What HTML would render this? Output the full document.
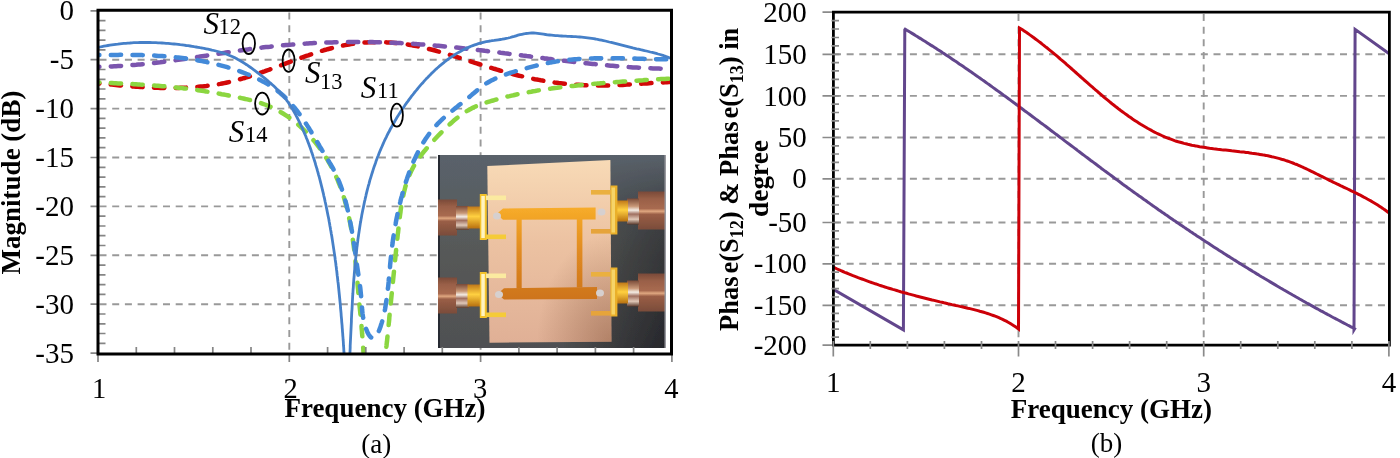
<!DOCTYPE html>
<html><head><meta charset="utf-8"><title>S-parameters</title>
<style>
html,body{margin:0;padding:0;background:#fff;}
body{width:1400px;height:458px;overflow:hidden;}
svg{display:block;filter:blur(0.5px);}
text{font-family:"Liberation Serif",serif;fill:#000;}
.b{font-weight:bold;}
</style></head><body>
<svg width="1400" height="458" viewBox="0 0 1400 458">
<defs>
<clipPath id="clipL"><rect x="99" y="11" width="571" height="342"/></clipPath>
<clipPath id="clipR"><rect x="834" y="13" width="554" height="331"/></clipPath>
<filter id="soft" x="0" y="0" width="1" height="1"><feGaussianBlur stdDeviation="0.7"/></filter>
<linearGradient id="bgph" x1="0" y1="0" x2="0" y2="1">
<stop offset="0" stop-color="#5a626b"/><stop offset="0.5" stop-color="#575958"/><stop offset="1" stop-color="#4f5052"/></linearGradient>
<linearGradient id="bgph2" x1="0" y1="0" x2="1" y2="0">
<stop offset="0" stop-color="#000" stop-opacity="0"/><stop offset="0.55" stop-color="#000" stop-opacity="0"/><stop offset="1" stop-color="#05050c" stop-opacity="0.55"/></linearGradient>
<linearGradient id="bgmaskg" x1="0" y1="0" x2="0" y2="1">
<stop offset="0" stop-color="#000"/><stop offset="0.3" stop-color="#999"/><stop offset="1" stop-color="#fff"/></linearGradient>
<mask id="bgmask" maskUnits="userSpaceOnUse" x="438" y="155" width="228" height="193"><rect x="438" y="155" width="228" height="193" fill="url(#bgmaskg)"/></mask>
<linearGradient id="board" x1="0" y1="0" x2="0" y2="1">
<stop offset="0" stop-color="#f8dab6"/><stop offset="0.45" stop-color="#ecc2a2"/><stop offset="1" stop-color="#e0b096"/></linearGradient>
<linearGradient id="trg" gradientUnits="userSpaceOnUse" x1="0" y1="205" x2="0" y2="300">
<stop offset="0" stop-color="#f8ae2a"/><stop offset="0.5" stop-color="#e08a20"/><stop offset="1" stop-color="#cd741e"/></linearGradient>
<radialGradient id="boardsh" cx="1" cy="1" r="0.6">
<stop offset="0" stop-color="#5a2a10" stop-opacity="0.35"/><stop offset="1" stop-color="#5a2a10" stop-opacity="0"/></radialGradient>
<linearGradient id="metal" x1="0" y1="0" x2="0" y2="1">
<stop offset="0" stop-color="#7a4a38"/><stop offset="0.2" stop-color="#9a6048"/><stop offset="0.45" stop-color="#a86a50"/><stop offset="0.52" stop-color="#e0a880"/><stop offset="0.6" stop-color="#9a5e46"/><stop offset="1" stop-color="#7a4c3a"/></linearGradient>
<linearGradient id="metal2" x1="0" y1="0" x2="0" y2="1">
<stop offset="0" stop-color="#7a4a38"/><stop offset="0.3" stop-color="#c89878"/><stop offset="0.45" stop-color="#f4ece4"/><stop offset="0.6" stop-color="#a07060"/><stop offset="0.8" stop-color="#e0c8b8"/><stop offset="1" stop-color="#5a3a2c"/></linearGradient>
<linearGradient id="gold" x1="0" y1="0" x2="0" y2="1">
<stop offset="0" stop-color="#c07818"/><stop offset="0.45" stop-color="#ffd040"/><stop offset="1" stop-color="#b87010"/></linearGradient>
</defs>
<rect width="1400" height="458" fill="#fff"/>

<path d="M99.5,59.7H670.0 M99.5,108.6H670.0 M99.5,157.5H670.0 M99.5,206.4H670.0 M99.5,255.3H670.0 M99.5,304.2H670.0 M289.3,12.5V352.5 M480.6,12.5V352.5" stroke="#999999" stroke-width="1.9" stroke-dasharray="7 5.7" fill="none"/>
<path d="M834.0,54.3H1387.9 M834.0,95.9H1387.9 M834.0,137.5H1387.9 M834.0,178.8H1387.9 M834.0,222.5H1387.9 M834.0,263.8H1387.9 M834.0,305.3H1387.9 M1018.5,14.0V343.7 M1203.7,14.0V343.7" stroke="#999999" stroke-width="1.9" stroke-dasharray="7 5.65" fill="none"/>
<g filter="url(#soft)">
<rect x="438" y="155" width="228" height="193" fill="url(#bgph)"/>
<rect x="438" y="155" width="228" height="193" fill="url(#bgph2)" mask="url(#bgmask)"/>
<rect x="438" y="155" width="2" height="193" fill="#262b30"/>
<path d="M487.3,166 L610.4,160 L611.5,341.7 L489.5,342.7 Z" fill="url(#board)"/>
<path d="M487.3,166 L610.4,160 L611.5,341.7 L489.5,342.7 Z" fill="url(#boardsh)"/>
<path d="M496.5,214 L503,208.6 L595.6,207.6 L595.6,219.6 L503,219.8 Z" fill="url(#trg)"/>
<path d="M497.5,294 L504,288.2 L597,287.1 L597,299.1 L504,299.6 Z" fill="url(#trg)"/>
<rect x="516.5" y="219" width="5.2" height="69.5" fill="url(#trg)"/>
<rect x="576.8" y="219" width="5.6" height="68.5" fill="url(#trg)"/>
<rect x="438" y="199.5" width="19" height="36" fill="url(#metal)"/><rect x="456" y="206.0" width="13" height="24" fill="url(#metal2)"/><rect x="467.5" y="206.5" width="13" height="22" fill="url(#gold)"/><rect x="479.8" y="194.0" width="7" height="46" fill="#f3c22a"/><rect x="481.3" y="196.0" width="3.5" height="42" fill="#fff4c0"/><rect x="486" y="195.5" width="20" height="4.6" fill="#fbeaa0"/><rect x="486" y="234.5" width="20" height="4.6" fill="#f5cb38"/>
<rect x="438" y="277.5" width="19" height="36" fill="url(#metal)"/><rect x="456" y="284.0" width="13" height="24" fill="url(#metal2)"/><rect x="467.5" y="284.5" width="13" height="22" fill="url(#gold)"/><rect x="479.8" y="272.0" width="7" height="46" fill="#f3c22a"/><rect x="481.3" y="274.0" width="3.5" height="42" fill="#fff4c0"/><rect x="486" y="273.5" width="20" height="4.6" fill="#fbeaa0"/><rect x="486" y="312.5" width="20" height="4.6" fill="#f5cb38"/>
<rect x="638" y="191.5" width="28" height="38" fill="url(#metal)"/><rect x="627" y="198.5" width="12" height="26" fill="url(#metal2)"/><rect x="616.5" y="200.5" width="11.5" height="21" fill="url(#gold)"/><rect x="610.4" y="185.5" width="7" height="49" fill="#eab02a"/><rect x="611.5" y="187.5" width="3.5" height="45" fill="#f6d468"/><rect x="591" y="190.0" width="20" height="4.6" fill="#eab040"/><rect x="591" y="229.0" width="20" height="4.6" fill="#e6a43a"/>
<rect x="638" y="273.5" width="28" height="38" fill="url(#metal)"/><rect x="627" y="280.5" width="12" height="26" fill="url(#metal2)"/><rect x="616.5" y="282.5" width="11.5" height="21" fill="url(#gold)"/><rect x="610.4" y="267.5" width="7" height="49" fill="#eab02a"/><rect x="611.5" y="269.5" width="3.5" height="45" fill="#f6d468"/><rect x="591" y="272.0" width="20" height="4.6" fill="#eab040"/><rect x="591" y="311.0" width="20" height="4.6" fill="#e6a43a"/>
<ellipse cx="497.0" cy="216.0" rx="4" ry="3.5" fill="#d6d0cf"/>
<ellipse cx="601.5" cy="212.0" rx="4" ry="3.5" fill="#d6d0cf"/>
<ellipse cx="499.0" cy="294.5" rx="4" ry="3.5" fill="#d6d0cf"/>
<ellipse cx="600.0" cy="293.0" rx="4" ry="3.5" fill="#d6d0cf"/>
<rect x="664.5" y="155" width="1.5" height="193" fill="#9a9aa0"/>
</g>
<g clip-path="url(#clipL)" fill="none" stroke-linejoin="round">
<path d="M98.0,83.3 L100.0,83.5 L102.0,83.7 L104.0,83.9 L105.9,84.1 L107.9,84.3 L109.9,84.5 L111.9,84.6 L113.9,84.8 L115.9,85.0 L117.9,85.2 L119.9,85.4 L122.0,85.5 L124.0,85.7 L126.0,85.9 L128.0,86.1 L130.0,86.2 L132.0,86.4 L134.0,86.5 L136.1,86.7 L138.1,86.8 L140.1,86.9 L142.1,87.1 L144.1,87.2 L146.2,87.3 L148.2,87.4 L150.2,87.5 L152.2,87.6 L154.2,87.7 L156.3,87.7 L158.3,87.8 L160.3,87.9 L162.3,87.9 L164.3,87.9 L166.4,88.0 L168.4,88.0 L170.4,88.0 L172.4,88.0 L174.4,88.0 L176.4,87.9 L178.5,87.9 L180.5,87.8 L182.5,87.8 L184.5,87.7 L186.5,87.6 L188.5,87.5 L190.5,87.4 L192.5,87.3 L194.5,87.1 L196.5,87.0 L198.5,86.8 L200.5,86.6 L202.5,86.4 L204.5,86.2 L206.4,86.0 L208.4,85.7 L210.4,85.4 L212.4,85.2 L214.3,84.9 L216.3,84.5 L218.3,84.2 L220.2,83.9 L222.2,83.5 L224.2,83.1 L226.1,82.7 L228.0,82.3 L230.0,81.8 L231.9,81.4 L233.9,80.9 L235.8,80.4 L237.7,79.9 L239.7,79.3 L241.6,78.8 L243.5,78.2 L245.4,77.7 L247.3,77.1 L249.2,76.5 L251.2,75.9 L253.1,75.3 L255.0,74.6 L256.9,74.0 L258.8,73.4 L260.7,72.7 L262.6,72.0 L264.5,71.4 L266.4,70.7 L268.3,70.0 L270.2,69.3 L272.1,68.6 L274.0,67.9 L275.9,67.2 L277.8,66.5 L279.7,65.8 L281.6,65.1 L283.5,64.4 L285.4,63.6 L287.3,62.9 L289.2,62.2 L291.1,61.5 L293.0,60.8 L294.9,60.1 L296.8,59.4 L298.7,58.7 L300.6,58.0 L302.5,57.3 L304.4,56.6 L306.3,55.9 L308.3,55.3 L310.2,54.6 L312.1,54.0 L314.0,53.3 L315.9,52.7 L317.9,52.1 L319.8,51.5 L321.7,50.9 L323.6,50.3 L325.6,49.8 L327.5,49.2 L329.4,48.7 L331.4,48.2 L333.3,47.7 L335.3,47.2 L337.2,46.7 L339.2,46.3 L341.1,45.9 L343.1,45.5 L345.1,45.1 L347.0,44.7 L349.0,44.4 L351.0,44.1 L352.9,43.8 L354.9,43.6 L356.9,43.3 L358.9,43.1 L360.9,42.9 L362.9,42.7 L364.9,42.6 L366.8,42.5 L368.8,42.3 L370.8,42.3 L372.8,42.2 L374.8,42.2 L376.8,42.1 L378.8,42.1 L380.8,42.2 L382.8,42.2 L384.8,42.3 L386.8,42.4 L388.8,42.5 L390.8,42.6 L392.8,42.7 L394.8,42.9 L396.8,43.1 L398.7,43.3 L400.7,43.5 L402.7,43.8 L404.7,44.1 L406.7,44.4 L408.7,44.7 L410.6,45.0 L412.6,45.4 L414.6,45.7 L416.5,46.1 L418.5,46.5 L420.5,47.0 L422.4,47.4 L424.4,47.8 L426.3,48.3 L428.3,48.8 L430.2,49.3 L432.2,49.8 L434.1,50.3 L436.1,50.8 L438.0,51.4 L440.0,51.9 L441.9,52.5 L443.9,53.1 L445.8,53.6 L447.7,54.2 L449.7,54.8 L451.6,55.4 L453.5,56.0 L455.5,56.6 L457.4,57.2 L459.3,57.8 L461.3,58.4 L463.2,59.1 L465.1,59.7 L467.1,60.3 L469.0,60.9 L470.9,61.5 L472.8,62.2 L474.8,62.8 L476.7,63.4 L478.6,64.0 L480.6,64.6 L482.5,65.2 L484.4,65.8 L486.4,66.4 L488.3,67.0 L490.2,67.6 L492.1,68.2 L494.1,68.8 L496.0,69.3 L497.9,69.9 L499.9,70.5 L501.8,71.0 L503.7,71.6 L505.7,72.1 L507.6,72.6 L509.6,73.2 L511.5,73.7 L513.4,74.2 L515.4,74.7 L517.3,75.2 L519.3,75.7 L521.2,76.1 L523.2,76.6 L525.1,77.1 L527.1,77.5 L529.0,77.9 L531.0,78.3 L532.9,78.8 L534.9,79.2 L536.9,79.5 L538.8,79.9 L540.8,80.3 L542.8,80.6 L544.8,81.0 L546.7,81.3 L548.7,81.6 L550.7,81.9 L552.7,82.2 L554.6,82.5 L556.6,82.7 L558.6,83.0 L560.6,83.2 L562.6,83.4 L564.6,83.7 L566.6,83.9 L568.6,84.1 L570.6,84.2 L572.6,84.4 L574.6,84.6 L576.6,84.7 L578.6,84.8 L580.6,85.0 L582.6,85.1 L584.6,85.2 L586.6,85.2 L588.6,85.3 L590.6,85.4 L592.6,85.4 L594.6,85.5 L596.6,85.5 L598.6,85.5 L600.6,85.5 L602.7,85.5 L604.7,85.5 L606.7,85.4 L608.7,85.4 L610.7,85.3 L612.7,85.3 L614.7,85.2 L616.8,85.1 L618.8,85.1 L620.8,85.0 L622.8,84.9 L624.8,84.8 L626.8,84.6 L628.8,84.5 L630.9,84.4 L632.9,84.3 L634.9,84.2 L636.9,84.0 L638.9,83.9 L640.9,83.8 L642.9,83.6 L644.9,83.5 L646.9,83.4 L649.0,83.2 L651.0,83.1 L653.0,83.0 L655.0,82.8 L657.0,82.7 L659.0,82.6 L661.0,82.5 L663.0,82.4 L665.0,82.3 L667.0,82.2 L669.0,82.1 L671.0,82.0" stroke="#d20808" stroke-width="4.5" stroke-dasharray="10.3 11.4" stroke-dashoffset="8.9" stroke-linecap="round"/>
<path d="M98.0,82.4 L100.0,82.5 L102.0,82.6 L104.0,82.7 L106.0,82.8 L108.0,82.9 L110.0,83.0 L112.0,83.1 L114.0,83.2 L116.0,83.3 L118.0,83.4 L120.0,83.5 L122.0,83.6 L124.0,83.7 L126.0,83.8 L128.0,83.9 L130.1,84.0 L132.1,84.1 L134.1,84.2 L136.1,84.3 L138.1,84.4 L140.1,84.6 L142.1,84.7 L144.1,84.8 L146.1,85.0 L148.1,85.1 L150.1,85.2 L152.1,85.4 L154.1,85.5 L156.1,85.7 L158.1,85.8 L160.1,86.0 L162.1,86.2 L164.1,86.3 L166.1,86.5 L168.1,86.7 L170.1,86.9 L172.1,87.1 L174.1,87.3 L176.1,87.5 L178.1,87.7 L180.1,87.9 L182.1,88.1 L184.1,88.4 L186.1,88.6 L188.1,88.8 L190.1,89.1 L192.0,89.3 L194.0,89.6 L196.0,89.9 L198.0,90.2 L200.0,90.5 L201.9,90.8 L203.9,91.1 L205.9,91.4 L207.9,91.7 L209.8,92.0 L211.8,92.4 L213.8,92.7 L215.7,93.1 L217.7,93.4 L219.7,93.8 L221.6,94.2 L223.6,94.5 L225.6,94.9 L227.5,95.3 L229.5,95.7 L231.5,96.1 L233.5,96.5 L235.4,96.9 L237.4,97.3 L239.4,97.7 L241.4,98.1 L243.4,98.5 L245.4,99.0 L247.4,99.4 L249.3,99.9 L251.3,100.3 L253.3,100.8 L255.2,101.3 L257.2,101.9 L259.1,102.5 L261.0,103.1 L262.9,103.8 L264.8,104.5 L266.7,105.2 L268.5,106.0 L270.3,106.8 L272.1,107.6 L273.9,108.5 L275.7,109.4 L277.5,110.3 L279.2,111.3 L280.9,112.3 L282.6,113.3 L284.3,114.3 L286.0,115.4 L287.6,116.5 L289.3,117.7 L290.9,118.8 L292.5,120.0 L294.0,121.2 L295.6,122.5 L297.1,123.8 L298.7,125.1 L300.1,126.4 L301.6,127.7 L303.1,129.1 L304.5,130.5 L305.9,131.9 L307.3,133.3 L308.7,134.8 L310.1,136.3 L311.4,137.8 L312.7,139.3 L314.0,140.8 L315.3,142.4 L316.6,144.0 L317.8,145.6 L319.0,147.2 L320.2,148.8 L321.4,150.4 L322.5,152.1 L323.6,153.8 L324.7,155.5 L325.8,157.2 L326.9,158.9 L327.9,160.6 L328.9,162.4 L329.9,164.1 L330.9,165.9 L331.8,167.7 L332.7,169.5 L333.6,171.3 L334.5,173.1 L335.4,174.9 L336.2,176.8 L337.0,178.6 L337.8,180.4 L338.5,182.3 L339.3,184.2 L340.0,186.0 L340.7,187.9 L341.4,189.8 L342.0,191.7 L342.7,193.6 L343.3,195.5 L343.9,197.4 L344.5,199.4 L345.0,201.3 L345.6,203.2 L346.1,205.2 L346.6,207.1 L347.1,209.1 L347.6,211.0 L348.0,213.0 L348.5,214.9 L348.9,216.9 L349.3,218.9 L349.7,220.9 L350.1,222.8 L350.5,224.8 L350.8,226.8 L351.2,228.8 L351.5,230.8 L351.8,232.8 L352.2,234.8 L352.5,236.8 L352.7,238.8 L353.0,240.8 L353.3,242.8 L353.6,244.8 L353.8,246.8 L354.1,248.8 L354.3,250.8 L354.6,252.8 L354.8,254.8 L355.0,256.8 L355.2,258.8 L355.4,260.8 L355.6,262.8 L355.8,264.8 L356.0,266.8 L356.2,268.8 L356.4,270.8 L356.6,272.7 L356.8,274.7 L356.9,276.7 L357.1,278.7 L357.3,280.7 L357.5,282.6 L357.6,284.6 L357.8,286.6 L358.0,288.6 L358.2,290.5 L358.3,292.5 L358.5,294.4 L358.7,296.4 L358.9,298.3 L359.1,300.2 L359.2,302.2 L359.4,304.1 L359.6,306.0 L359.8,308.0 L360.0,309.9 L360.2,311.9 L360.4,313.8 L360.6,315.8 L360.7,317.7 L360.9,319.7 L361.1,321.7 L361.3,323.7 L361.5,325.7 L361.6,327.7 L361.8,329.7 L362.0,331.8 L362.1,333.8 L362.3,335.9 L362.5,338.0 L362.6,340.2 L362.8,342.3 L362.9,344.5 L363.1,346.7 L363.3,349.0 L363.4,351.3 L363.6,353.6 L363.9,356.1 L364.1,358.6 L364.4,361.1 L364.7,363.6 L365.0,366.2 L365.4,368.8 L365.7,371.3 L366.1,373.9 L366.5,376.4 L366.9,378.8 L367.3,381.2 L367.7,383.4 L368.2,385.6 L368.7,387.7 L369.1,389.6 L369.6,391.5 L370.1,393.1 L370.6,394.6 L371.2,395.9 L371.7,397.0 L372.2,397.9 L372.7,398.6 L373.3,399.1 L373.8,399.3 L374.3,399.2 L374.9,398.9 L375.4,398.3 L376.0,397.5 L376.5,396.5 L377.1,395.3 L377.6,393.9 L378.1,392.4 L378.6,390.6 L379.2,388.8 L379.7,386.8 L380.2,384.6 L380.7,382.4 L381.2,380.1 L381.6,377.7 L382.1,375.2 L382.6,372.7 L383.0,370.2 L383.4,367.6 L383.8,365.0 L384.2,362.5 L384.6,359.9 L385.0,357.4 L385.3,354.9 L385.6,352.5 L385.9,350.2 L386.2,347.9 L386.5,345.7 L386.7,343.5 L387.0,341.4 L387.2,339.3 L387.4,337.2 L387.6,335.2 L387.8,333.2 L388.0,331.2 L388.2,329.3 L388.4,327.3 L388.6,325.4 L388.8,323.4 L389.0,321.5 L389.2,319.6 L389.3,317.6 L389.5,315.7 L389.7,313.7 L389.9,311.7 L390.1,309.8 L390.3,307.8 L390.5,305.8 L390.7,303.8 L390.9,301.9 L391.1,299.9 L391.3,297.9 L391.5,295.9 L391.7,293.9 L391.9,291.9 L392.1,290.0 L392.3,288.0 L392.5,286.0 L392.7,284.0 L392.9,282.0 L393.1,280.0 L393.3,278.0 L393.5,276.1 L393.7,274.1 L393.9,272.1 L394.1,270.1 L394.3,268.1 L394.5,266.1 L394.7,264.1 L394.9,262.1 L395.1,260.1 L395.3,258.1 L395.5,256.1 L395.7,254.1 L395.9,252.1 L396.1,250.2 L396.3,248.1 L396.6,246.1 L396.8,244.1 L397.0,242.1 L397.2,240.1 L397.4,238.1 L397.6,236.1 L397.8,234.1 L398.1,232.1 L398.3,230.1 L398.5,228.1 L398.7,226.1 L399.0,224.0 L399.2,222.0 L399.4,220.0 L399.7,218.0 L399.9,216.0 L400.2,214.0 L400.5,211.9 L400.7,209.9 L401.0,207.9 L401.3,205.9 L401.7,203.9 L402.0,201.9 L402.4,200.0 L402.8,198.0 L403.2,196.0 L403.6,194.1 L404.0,192.1 L404.5,190.2 L405.0,188.3 L405.5,186.3 L406.1,184.4 L406.7,182.6 L407.3,180.7 L408.0,178.8 L408.7,177.0 L409.4,175.2 L410.2,173.4 L411.0,171.6 L411.9,169.8 L412.8,168.0 L413.7,166.3 L414.7,164.6 L415.8,162.9 L416.8,161.2 L418.0,159.6 L419.1,157.9 L420.3,156.3 L421.5,154.7 L422.7,153.1 L424.0,151.5 L425.3,150.0 L426.6,148.4 L427.9,146.9 L429.3,145.3 L430.7,143.8 L432.0,142.3 L433.4,140.8 L434.8,139.3 L436.2,137.8 L437.6,136.3 L439.0,134.8 L440.4,133.4 L441.9,131.9 L443.3,130.5 L444.7,129.0 L446.2,127.6 L447.6,126.2 L449.1,124.9 L450.6,123.5 L452.1,122.2 L453.6,120.8 L455.1,119.6 L456.6,118.3 L458.2,117.1 L459.8,115.9 L461.4,114.7 L463.0,113.6 L464.6,112.5 L466.3,111.4 L468.0,110.4 L469.7,109.5 L471.5,108.5 L473.2,107.6 L475.0,106.8 L476.9,106.0 L478.7,105.2 L480.6,104.5 L482.5,103.8 L484.4,103.2 L486.3,102.5 L488.2,101.9 L490.1,101.3 L492.1,100.7 L494.0,100.2 L496.0,99.6 L497.9,99.1 L499.8,98.5 L501.8,98.0 L503.7,97.5 L505.7,97.0 L507.6,96.5 L509.6,96.1 L511.6,95.6 L513.5,95.2 L515.5,94.7 L517.5,94.3 L519.4,93.9 L521.4,93.5 L523.4,93.1 L525.3,92.7 L527.3,92.4 L529.3,92.0 L531.2,91.7 L533.2,91.3 L535.2,91.0 L537.2,90.6 L539.2,90.3 L541.1,90.0 L543.1,89.7 L545.1,89.4 L547.1,89.1 L549.1,88.8 L551.1,88.6 L553.1,88.3 L555.0,88.0 L557.0,87.8 L559.0,87.5 L561.0,87.3 L563.0,87.0 L565.0,86.8 L567.0,86.5 L569.0,86.3 L571.0,86.1 L573.0,85.9 L575.0,85.7 L577.0,85.4 L579.0,85.2 L580.9,85.0 L582.9,84.8 L584.9,84.7 L586.9,84.5 L588.9,84.3 L590.9,84.1 L592.9,83.9 L594.9,83.7 L596.9,83.6 L598.9,83.4 L600.9,83.2 L602.9,83.1 L604.9,82.9 L606.9,82.8 L608.9,82.6 L610.9,82.5 L612.9,82.3 L614.9,82.2 L616.9,82.0 L618.9,81.9 L620.9,81.7 L622.9,81.6 L624.9,81.5 L626.9,81.3 L628.9,81.2 L630.9,81.1 L633.0,80.9 L635.0,80.8 L637.0,80.7 L639.0,80.5 L641.0,80.4 L643.0,80.3 L645.0,80.1 L647.0,80.0 L649.0,79.9 L651.0,79.8 L653.0,79.6 L655.0,79.5 L657.0,79.4 L659.0,79.2 L661.0,79.1 L663.0,79.0 L665.0,78.9 L667.0,78.7 L669.0,78.6 L671.0,78.5" stroke="#8bd640" stroke-width="4.5" stroke-dasharray="10.3 11.4" stroke-dashoffset="8.9" stroke-linecap="round"/>
<path d="M98.0,66.9 L100.0,66.8 L102.0,66.8 L104.0,66.7 L106.1,66.7 L108.1,66.6 L110.1,66.5 L112.1,66.4 L114.1,66.3 L116.1,66.2 L118.1,66.1 L120.2,66.0 L122.2,65.9 L124.2,65.7 L126.2,65.6 L128.2,65.4 L130.2,65.3 L132.2,65.1 L134.2,64.9 L136.2,64.8 L138.2,64.6 L140.2,64.4 L142.2,64.2 L144.2,64.0 L146.2,63.8 L148.2,63.6 L150.2,63.4 L152.2,63.1 L154.2,62.9 L156.2,62.7 L158.2,62.4 L160.2,62.2 L162.2,61.9 L164.2,61.7 L166.2,61.4 L168.2,61.2 L170.2,60.9 L172.2,60.6 L174.2,60.4 L176.2,60.1 L178.2,59.8 L180.2,59.5 L182.2,59.3 L184.2,59.0 L186.2,58.7 L188.2,58.4 L190.2,58.1 L192.1,57.8 L194.1,57.5 L196.1,57.2 L198.1,56.9 L200.1,56.6 L202.1,56.3 L204.1,56.0 L206.1,55.7 L208.1,55.4 L210.1,55.1 L212.1,54.7 L214.1,54.4 L216.0,54.1 L218.0,53.8 L220.0,53.5 L222.0,53.2 L224.0,52.9 L226.0,52.6 L228.0,52.3 L230.0,52.0 L232.0,51.7 L234.0,51.4 L236.0,51.1 L238.0,50.8 L240.0,50.5 L241.9,50.2 L243.9,50.0 L245.9,49.7 L247.9,49.4 L249.9,49.1 L251.9,48.9 L253.9,48.6 L255.9,48.3 L257.9,48.1 L259.9,47.8 L261.9,47.6 L263.9,47.3 L265.9,47.1 L267.9,46.9 L269.9,46.7 L271.9,46.4 L273.9,46.2 L275.9,46.0 L277.9,45.8 L279.9,45.6 L281.9,45.4 L283.9,45.3 L285.9,45.1 L287.9,44.9 L289.9,44.7 L291.9,44.6 L293.9,44.4 L296.0,44.2 L298.0,44.1 L300.0,44.0 L302.0,43.8 L304.0,43.7 L306.0,43.6 L308.0,43.4 L310.0,43.3 L312.0,43.2 L314.0,43.1 L316.0,43.0 L318.0,42.9 L320.1,42.8 L322.1,42.7 L324.1,42.6 L326.1,42.6 L328.1,42.5 L330.1,42.4 L332.1,42.4 L334.1,42.3 L336.1,42.2 L338.2,42.2 L340.2,42.2 L342.2,42.1 L344.2,42.1 L346.2,42.1 L348.2,42.0 L350.2,42.0 L352.2,42.0 L354.2,42.0 L356.3,42.0 L358.3,42.0 L360.3,42.0 L362.3,42.0 L364.3,42.0 L366.3,42.0 L368.3,42.1 L370.3,42.1 L372.4,42.1 L374.4,42.2 L376.4,42.2 L378.4,42.3 L380.4,42.3 L382.4,42.4 L384.4,42.4 L386.4,42.5 L388.4,42.6 L390.5,42.7 L392.5,42.7 L394.5,42.8 L396.5,42.9 L398.5,43.0 L400.5,43.1 L402.5,43.2 L404.5,43.3 L406.5,43.4 L408.6,43.6 L410.6,43.7 L412.6,43.8 L414.6,43.9 L416.6,44.1 L418.6,44.2 L420.6,44.4 L422.6,44.5 L424.6,44.7 L426.6,44.8 L428.6,45.0 L430.6,45.1 L432.6,45.3 L434.6,45.5 L436.6,45.7 L438.6,45.8 L440.7,46.0 L442.7,46.2 L444.7,46.4 L446.7,46.6 L448.7,46.8 L450.7,47.0 L452.7,47.2 L454.7,47.4 L456.7,47.6 L458.7,47.8 L460.7,48.0 L462.7,48.2 L464.7,48.5 L466.7,48.7 L468.7,48.9 L470.7,49.1 L472.7,49.4 L474.7,49.6 L476.7,49.8 L478.7,50.1 L480.7,50.3 L482.7,50.5 L484.7,50.8 L486.7,51.0 L488.7,51.3 L490.7,51.5 L492.7,51.8 L494.7,52.0 L496.7,52.3 L498.7,52.5 L500.7,52.8 L502.7,53.0 L504.7,53.3 L506.7,53.5 L508.7,53.8 L510.7,54.0 L512.7,54.3 L514.7,54.5 L516.7,54.8 L518.7,55.0 L520.7,55.3 L522.7,55.6 L524.7,55.8 L526.7,56.1 L528.7,56.3 L530.7,56.6 L532.7,56.8 L534.7,57.1 L536.7,57.3 L538.7,57.6 L540.7,57.9 L542.7,58.1 L544.7,58.4 L546.7,58.6 L548.7,58.9 L550.7,59.1 L552.7,59.4 L554.7,59.6 L556.7,59.8 L558.7,60.1 L560.7,60.3 L562.7,60.6 L564.7,60.8 L566.7,61.1 L568.7,61.3 L570.7,61.5 L572.7,61.8 L574.7,62.0 L576.7,62.2 L578.7,62.4 L580.7,62.7 L582.7,62.9 L584.7,63.1 L586.7,63.3 L588.7,63.5 L590.7,63.7 L592.7,63.9 L594.7,64.1 L596.7,64.3 L598.7,64.5 L600.7,64.7 L602.7,64.9 L604.7,65.1 L606.7,65.3 L608.7,65.5 L610.7,65.7 L612.7,65.8 L614.7,66.0 L616.7,66.2 L618.7,66.3 L620.7,66.5 L622.7,66.6 L624.7,66.8 L626.8,66.9 L628.8,67.1 L630.8,67.2 L632.8,67.4 L634.8,67.5 L636.8,67.6 L638.8,67.7 L640.8,67.8 L642.8,67.9 L644.8,68.0 L646.8,68.1 L648.9,68.2 L650.9,68.3 L652.9,68.4 L654.9,68.5 L656.9,68.6 L658.9,68.6 L660.9,68.7 L662.9,68.7 L665.0,68.8 L667.0,68.8 L669.0,68.9 L671.0,68.9" stroke="#7b55ae" stroke-width="4.5" stroke-dasharray="10.3 11.4" stroke-dashoffset="8.9" stroke-linecap="round"/>
<path d="M98.0,55.1 L100.0,55.1 L102.0,55.0 L104.0,55.0 L106.0,55.0 L108.0,54.9 L110.0,54.9 L112.0,54.9 L114.0,54.9 L116.0,54.9 L118.0,54.9 L120.0,54.8 L122.1,54.8 L124.1,54.8 L126.1,54.9 L128.1,54.9 L130.1,54.9 L132.1,54.9 L134.1,54.9 L136.1,55.0 L138.1,55.0 L140.2,55.1 L142.2,55.1 L144.2,55.2 L146.2,55.3 L148.2,55.3 L150.2,55.4 L152.2,55.5 L154.2,55.6 L156.2,55.7 L158.2,55.9 L160.2,56.0 L162.2,56.1 L164.3,56.3 L166.3,56.4 L168.3,56.6 L170.3,56.8 L172.3,56.9 L174.3,57.1 L176.2,57.4 L178.2,57.6 L180.2,57.8 L182.2,58.0 L184.2,58.3 L186.2,58.6 L188.2,58.8 L190.2,59.1 L192.1,59.4 L194.1,59.7 L196.1,60.1 L198.1,60.4 L200.0,60.7 L202.0,61.1 L204.0,61.5 L205.9,61.9 L207.9,62.3 L209.9,62.7 L211.8,63.2 L213.8,63.6 L215.7,64.1 L217.6,64.6 L219.6,65.1 L221.5,65.6 L223.5,66.1 L225.4,66.6 L227.3,67.2 L229.2,67.8 L231.1,68.4 L233.1,69.0 L235.0,69.6 L236.9,70.3 L238.8,70.9 L240.7,71.6 L242.6,72.3 L244.4,73.0 L246.3,73.8 L248.2,74.5 L250.1,75.3 L251.9,76.1 L253.8,76.9 L255.6,77.8 L257.4,78.7 L259.3,79.6 L261.1,80.5 L262.8,81.4 L264.6,82.4 L266.3,83.4 L268.1,84.4 L269.8,85.5 L271.5,86.5 L273.1,87.7 L274.7,88.8 L276.4,90.0 L277.9,91.2 L279.5,92.4 L281.0,93.7 L282.5,95.0 L284.0,96.3 L285.4,97.7 L286.8,99.1 L288.2,100.5 L289.6,102.0 L290.9,103.5 L292.3,105.0 L293.5,106.5 L294.8,108.0 L296.1,109.6 L297.3,111.2 L298.5,112.8 L299.7,114.4 L300.9,116.0 L302.0,117.7 L303.2,119.3 L304.3,121.0 L305.4,122.7 L306.5,124.4 L307.6,126.1 L308.7,127.8 L309.7,129.5 L310.8,131.2 L311.8,132.9 L312.8,134.6 L313.9,136.4 L314.9,138.1 L315.9,139.8 L316.9,141.6 L318.0,143.3 L319.0,145.0 L320.0,146.8 L321.0,148.5 L322.0,150.2 L323.1,151.9 L324.1,153.6 L325.1,155.4 L326.2,157.1 L327.2,158.8 L328.3,160.5 L329.3,162.2 L330.4,163.9 L331.4,165.6 L332.4,167.3 L333.3,169.1 L334.2,170.9 L335.1,172.7 L336.0,174.5 L336.8,176.3 L337.6,178.1 L338.4,180.0 L339.2,181.8 L339.9,183.7 L340.6,185.6 L341.3,187.5 L341.9,189.4 L342.6,191.3 L343.2,193.3 L343.8,195.2 L344.4,197.1 L344.9,199.1 L345.4,201.0 L346.0,203.0 L346.5,204.9 L346.9,206.9 L347.4,208.8 L347.9,210.8 L348.3,212.7 L348.7,214.7 L349.1,216.7 L349.6,218.6 L349.9,220.6 L350.3,222.5 L350.7,224.5 L351.1,226.5 L351.4,228.4 L351.8,230.4 L352.1,232.4 L352.4,234.4 L352.7,236.3 L353.1,238.3 L353.4,240.3 L353.7,242.3 L354.0,244.2 L354.3,246.2 L354.6,248.2 L354.8,250.2 L355.1,252.2 L355.4,254.2 L355.7,256.2 L356.0,258.1 L356.3,260.1 L356.6,262.1 L356.8,264.1 L357.1,266.1 L357.4,268.1 L357.7,270.1 L358.0,272.1 L358.3,274.1 L358.6,276.1 L358.9,278.2 L359.2,280.2 L359.5,282.2 L359.7,284.2 L360.0,286.2 L360.3,288.1 L360.5,290.1 L360.7,292.1 L360.9,294.1 L361.1,296.0 L361.3,298.0 L361.5,299.9 L361.6,301.9 L361.7,303.8 L361.8,305.7 L362.0,307.6 L362.1,309.6 L362.3,311.5 L362.5,313.5 L362.8,315.5 L363.1,317.5 L363.5,319.5 L363.9,321.6 L364.4,323.7 L365.1,325.8 L365.8,328.0 L366.6,330.2 L367.5,332.4 L368.6,334.4 L369.7,336.0 L370.8,337.3 L372.1,338.0 L373.3,338.0 L374.6,337.4 L375.8,336.2 L377.0,334.7 L378.0,332.9 L378.9,331.0 L379.7,328.9 L380.5,326.8 L381.1,324.7 L381.8,322.6 L382.4,320.6 L382.9,318.6 L383.4,316.6 L383.9,314.7 L384.3,312.7 L384.7,310.8 L385.1,308.9 L385.4,306.9 L385.7,305.0 L386.0,303.1 L386.3,301.2 L386.6,299.2 L386.9,297.2 L387.1,295.3 L387.4,293.3 L387.6,291.3 L387.8,289.3 L388.1,287.4 L388.3,285.4 L388.5,283.4 L388.7,281.4 L388.8,279.4 L389.0,277.3 L389.2,275.3 L389.4,273.3 L389.6,271.3 L389.8,269.3 L390.0,267.3 L390.1,265.2 L390.3,263.2 L390.5,261.2 L390.7,259.2 L390.9,257.2 L391.1,255.2 L391.4,253.2 L391.6,251.2 L391.8,249.2 L392.1,247.2 L392.3,245.2 L392.6,243.2 L392.8,241.2 L393.1,239.2 L393.4,237.2 L393.7,235.3 L394.0,233.3 L394.3,231.3 L394.6,229.3 L395.0,227.4 L395.3,225.4 L395.7,223.4 L396.0,221.5 L396.4,219.5 L396.8,217.5 L397.2,215.6 L397.6,213.6 L398.0,211.7 L398.4,209.7 L398.9,207.8 L399.3,205.8 L399.8,203.9 L400.3,202.0 L400.7,200.0 L401.2,198.1 L401.8,196.1 L402.3,194.2 L402.8,192.3 L403.4,190.3 L403.9,188.4 L404.5,186.5 L405.1,184.6 L405.7,182.6 L406.3,180.7 L407.0,178.8 L407.6,176.9 L408.3,175.0 L409.0,173.1 L409.6,171.2 L410.4,169.3 L411.1,167.4 L411.9,165.5 L412.6,163.6 L413.4,161.8 L414.2,159.9 L415.1,158.1 L415.9,156.3 L416.8,154.5 L417.7,152.7 L418.6,150.9 L419.5,149.1 L420.5,147.4 L421.5,145.6 L422.5,143.9 L423.5,142.2 L424.6,140.5 L425.7,138.8 L426.8,137.2 L428.0,135.5 L429.1,133.9 L430.3,132.3 L431.6,130.8 L432.8,129.2 L434.1,127.7 L435.4,126.2 L436.8,124.8 L438.1,123.3 L439.6,121.9 L441.0,120.5 L442.4,119.1 L443.9,117.8 L445.4,116.4 L447.0,115.1 L448.5,113.8 L450.0,112.5 L451.6,111.2 L453.2,109.9 L454.8,108.6 L456.4,107.4 L457.9,106.1 L459.5,104.8 L461.1,103.6 L462.7,102.3 L464.3,101.1 L465.9,99.8 L467.5,98.5 L469.1,97.2 L470.6,95.9 L472.1,94.6 L473.7,93.3 L475.2,92.0 L476.7,90.7 L478.2,89.4 L479.8,88.2 L481.3,86.9 L482.9,85.8 L484.5,84.6 L486.2,83.5 L487.9,82.5 L489.6,81.5 L491.3,80.6 L493.1,79.7 L494.9,78.8 L496.7,78.0 L498.6,77.2 L500.4,76.4 L502.3,75.7 L504.2,75.0 L506.1,74.3 L508.0,73.6 L509.9,73.0 L511.9,72.4 L513.8,71.8 L515.8,71.2 L517.7,70.6 L519.7,70.1 L521.6,69.5 L523.6,69.0 L525.5,68.4 L527.5,67.9 L529.4,67.4 L531.4,66.9 L533.3,66.4 L535.3,65.9 L537.2,65.4 L539.1,64.9 L541.1,64.4 L543.0,64.0 L545.0,63.6 L546.9,63.2 L548.9,62.8 L550.8,62.4 L552.8,62.1 L554.8,61.7 L556.7,61.4 L558.7,61.1 L560.7,60.8 L562.7,60.6 L564.7,60.3 L566.6,60.1 L568.6,59.9 L570.6,59.7 L572.6,59.5 L574.6,59.3 L576.6,59.2 L578.6,59.0 L580.6,58.9 L582.6,58.8 L584.6,58.7 L586.6,58.6 L588.6,58.5 L590.6,58.4 L592.6,58.4 L594.6,58.3 L596.7,58.3 L598.7,58.2 L600.7,58.2 L602.7,58.2 L604.7,58.2 L606.7,58.2 L608.7,58.2 L610.8,58.2 L612.8,58.2 L614.8,58.2 L616.8,58.2 L618.8,58.3 L620.8,58.3 L622.9,58.3 L624.9,58.4 L626.9,58.4 L628.9,58.5 L630.9,58.5 L632.9,58.6 L635.0,58.6 L637.0,58.7 L639.0,58.7 L641.0,58.8 L643.0,58.8 L645.0,58.9 L647.0,59.0 L649.0,59.0 L651.0,59.0 L653.0,59.1 L655.0,59.1 L657.0,59.2 L659.0,59.2 L661.0,59.2 L663.0,59.3 L665.0,59.3 L667.0,59.3 L669.0,59.3 L670.9,59.3" stroke="#438ad9" stroke-width="4.5" stroke-dasharray="10.3 11.4" stroke-dashoffset="8.9" stroke-linecap="round"/>
<path d="M98.0,47.4 L100.0,47.0 L102.0,46.6 L103.9,46.2 L105.9,45.8 L107.9,45.5 L109.9,45.2 L111.8,44.9 L113.8,44.6 L115.8,44.3 L117.8,44.1 L119.8,43.8 L121.8,43.6 L123.8,43.4 L125.8,43.3 L127.8,43.1 L129.8,43.0 L131.8,42.8 L133.8,42.7 L135.8,42.7 L137.8,42.6 L139.9,42.5 L141.9,42.5 L143.9,42.5 L145.9,42.5 L147.9,42.5 L149.9,42.5 L152.0,42.6 L154.0,42.6 L156.0,42.7 L158.0,42.8 L160.0,42.9 L162.0,43.0 L164.1,43.1 L166.1,43.3 L168.1,43.4 L170.1,43.6 L172.1,43.8 L174.1,44.0 L176.1,44.2 L178.2,44.4 L180.2,44.7 L182.2,44.9 L184.2,45.2 L186.2,45.5 L188.2,45.7 L190.2,46.0 L192.2,46.3 L194.2,46.7 L196.2,47.0 L198.1,47.3 L200.1,47.7 L202.1,48.0 L204.1,48.4 L206.1,48.8 L208.0,49.2 L210.0,49.6 L211.9,50.1 L213.9,50.5 L215.8,51.0 L217.8,51.5 L219.7,52.0 L221.6,52.6 L223.5,53.2 L225.3,53.8 L227.2,54.5 L229.0,55.2 L230.9,56.0 L232.7,56.8 L234.5,57.6 L236.3,58.5 L238.0,59.5 L239.8,60.5 L241.5,61.5 L243.2,62.5 L244.9,63.6 L246.6,64.7 L248.3,65.9 L249.9,67.0 L251.6,68.2 L253.2,69.4 L254.9,70.6 L256.5,71.8 L258.1,73.1 L259.8,74.3 L261.4,75.6 L263.0,76.9 L264.6,78.1 L266.1,79.4 L267.7,80.7 L269.2,82.1 L270.8,83.4 L272.3,84.7 L273.8,86.1 L275.3,87.5 L276.7,88.9 L278.1,90.3 L279.5,91.7 L280.9,93.2 L282.2,94.7 L283.5,96.2 L284.7,97.7 L286.0,99.3 L287.1,100.9 L288.3,102.5 L289.4,104.2 L290.5,105.9 L291.6,107.6 L292.6,109.3 L293.6,111.0 L294.6,112.7 L295.6,114.5 L296.5,116.3 L297.4,118.0 L298.3,119.8 L299.2,121.6 L300.1,123.4 L300.9,125.3 L301.8,127.1 L302.6,128.9 L303.4,130.8 L304.2,132.6 L305.0,134.5 L305.8,136.3 L306.5,138.2 L307.3,140.0 L308.0,141.9 L308.7,143.8 L309.4,145.7 L310.1,147.6 L310.8,149.5 L311.4,151.4 L312.1,153.3 L312.7,155.2 L313.3,157.1 L314.0,159.1 L314.6,161.0 L315.2,162.9 L315.7,164.9 L316.3,166.8 L316.9,168.7 L317.4,170.7 L318.0,172.6 L318.5,174.6 L319.1,176.5 L319.6,178.5 L320.1,180.4 L320.6,182.4 L321.1,184.4 L321.6,186.3 L322.1,188.3 L322.5,190.2 L323.0,192.2 L323.5,194.2 L323.9,196.1 L324.4,198.1 L324.8,200.1 L325.2,202.0 L325.7,204.0 L326.1,206.0 L326.5,208.0 L326.9,209.9 L327.3,211.9 L327.7,213.9 L328.1,215.9 L328.5,217.8 L328.9,219.8 L329.2,221.8 L329.6,223.8 L329.9,225.8 L330.3,227.7 L330.6,229.7 L331.0,231.7 L331.3,233.7 L331.7,235.7 L332.0,237.7 L332.3,239.6 L332.6,241.6 L332.9,243.6 L333.2,245.6 L333.5,247.6 L333.8,249.6 L334.1,251.6 L334.4,253.6 L334.7,255.6 L335.0,257.5 L335.2,259.5 L335.5,261.5 L335.8,263.5 L336.0,265.5 L336.3,267.5 L336.5,269.5 L336.8,271.5 L337.0,273.5 L337.2,275.5 L337.5,277.5 L337.7,279.5 L337.9,281.5 L338.2,283.5 L338.4,285.5 L338.6,287.5 L338.8,289.5 L339.0,291.5 L339.2,293.5 L339.4,295.5 L339.6,297.5 L339.8,299.5 L340.0,301.5 L340.2,303.5 L340.4,305.5 L340.5,307.5 L340.7,309.5 L340.9,311.5 L341.1,313.6 L341.2,315.6 L341.4,317.6 L341.6,319.6 L341.7,321.6 L341.9,323.6 L342.1,325.6 L342.2,327.6 L342.4,329.6 L342.5,331.6 L342.7,333.6 L342.8,335.6 L343.0,337.7 L343.1,339.7 L343.3,341.7 L343.4,343.7 L343.5,345.7 L343.7,347.7 L343.8,349.7 L343.9,351.7 L344.1,353.7 L344.2,355.8 L344.3,357.8 L344.5,359.8 L344.6,361.8 L344.7,363.8 L344.9,365.8 L345.0,367.8 L345.1,369.8 L345.2,371.9 L345.4,373.9 L345.5,375.9 L345.6,377.9 L345.7,379.9 L345.9,381.9 L346.0,383.9 L346.1,385.9 L346.2,387.9 L346.3,390.0 L346.5,392.0 L346.6,394.0 L346.7,396.0 L346.8,398.0 L347.0,400.0 M347.0,400.0 L347.2,398.0 L347.4,396.0 L347.5,394.0 L347.7,392.0 L347.8,390.0 L347.9,387.9 L348.1,385.9 L348.2,383.9 L348.3,381.9 L348.5,379.9 L348.6,377.9 L348.7,375.9 L348.8,373.9 L348.9,371.8 L349.1,369.8 L349.2,367.8 L349.3,365.8 L349.4,363.8 L349.5,361.8 L349.6,359.8 L349.7,357.8 L349.8,355.8 L349.9,353.7 L350.0,351.7 L350.1,349.7 L350.2,347.7 L350.2,345.7 L350.3,343.7 L350.4,341.7 L350.5,339.7 L350.6,337.7 L350.7,335.7 L350.8,333.7 L350.9,331.6 L351.0,329.6 L351.1,327.6 L351.2,325.6 L351.3,323.6 L351.4,321.6 L351.4,319.6 L351.5,317.6 L351.6,315.6 L351.7,313.6 L351.8,311.6 L352.0,309.6 L352.1,307.6 L352.2,305.6 L352.3,303.6 L352.4,301.5 L352.5,299.5 L352.6,297.5 L352.7,295.5 L352.9,293.5 L353.0,291.5 L353.1,289.5 L353.3,287.5 L353.4,285.5 L353.5,283.5 L353.7,281.5 L353.8,279.5 L354.0,277.5 L354.2,275.5 L354.3,273.5 L354.5,271.5 L354.7,269.5 L354.8,267.5 L355.0,265.5 L355.2,263.5 L355.4,261.5 L355.6,259.5 L355.8,257.5 L356.0,255.5 L356.2,253.5 L356.5,251.5 L356.7,249.5 L356.9,247.5 L357.2,245.5 L357.4,243.5 L357.7,241.5 L357.9,239.5 L358.2,237.5 L358.5,235.5 L358.8,233.5 L359.1,231.5 L359.4,229.5 L359.7,227.5 L360.0,225.5 L360.3,223.6 L360.7,221.6 L361.0,219.6 L361.4,217.6 L361.7,215.6 L362.1,213.6 L362.5,211.6 L362.9,209.6 L363.3,207.7 L363.7,205.7 L364.1,203.7 L364.5,201.7 L365.0,199.8 L365.4,197.8 L365.9,195.8 L366.3,193.9 L366.8,191.9 L367.3,189.9 L367.8,188.0 L368.3,186.0 L368.9,184.1 L369.4,182.1 L369.9,180.2 L370.5,178.3 L371.1,176.3 L371.7,174.4 L372.3,172.5 L372.9,170.6 L373.5,168.7 L374.1,166.8 L374.8,164.9 L375.5,163.0 L376.1,161.1 L376.8,159.2 L377.5,157.3 L378.3,155.5 L379.0,153.6 L379.7,151.7 L380.5,149.9 L381.3,148.0 L382.1,146.2 L382.9,144.4 L383.7,142.5 L384.5,140.7 L385.4,138.9 L386.3,137.1 L387.1,135.3 L388.0,133.5 L389.0,131.8 L389.9,130.0 L390.8,128.2 L391.8,126.5 L392.8,124.7 L393.8,123.0 L394.8,121.2 L395.8,119.5 L396.8,117.8 L397.9,116.1 L398.9,114.4 L400.0,112.7 L401.1,111.0 L402.2,109.3 L403.3,107.7 L404.5,106.0 L405.6,104.3 L406.8,102.7 L408.0,101.1 L409.2,99.4 L410.4,97.8 L411.6,96.2 L412.9,94.6 L414.1,93.0 L415.4,91.4 L416.7,89.9 L417.9,88.3 L419.3,86.7 L420.6,85.2 L421.9,83.7 L423.3,82.2 L424.6,80.6 L426.0,79.1 L427.4,77.7 L428.8,76.2 L430.3,74.8 L431.7,73.3 L433.1,71.9 L434.6,70.5 L436.1,69.1 L437.6,67.8 L439.1,66.4 L440.7,65.1 L442.2,63.9 L443.8,62.6 L445.3,61.3 L446.9,60.1 L448.5,58.9 L450.2,57.8 L451.8,56.7 L453.5,55.6 L455.1,54.5 L456.8,53.4 L458.5,52.4 L460.3,51.5 L462.0,50.5 L463.8,49.6 L465.5,48.7 L467.3,47.9 L469.1,47.1 L471.0,46.3 L472.8,45.6 L474.7,44.9 L476.5,44.3 L478.4,43.7 L480.3,43.1 L482.3,42.6 L484.2,42.1 L486.2,41.7 L488.2,41.3 L490.2,41.0 L492.2,40.6 L494.2,40.4 L496.2,40.1 L498.2,39.8 L500.3,39.5 L502.3,39.2 L504.3,38.8 L506.3,38.4 L508.3,38.0 L510.3,37.5 L512.2,36.9 L514.2,36.4 L516.1,35.8 L518.0,35.2 L520.0,34.7 L521.9,34.3 L523.9,33.9 L525.8,33.5 L527.8,33.3 L529.7,33.1 L531.7,33.0 L533.6,33.0 L535.6,33.1 L537.6,33.3 L539.5,33.6 L541.5,33.9 L543.5,34.2 L545.5,34.5 L547.5,34.8 L549.5,35.0 L551.5,35.2 L553.5,35.4 L555.5,35.6 L557.5,35.7 L559.5,35.9 L561.5,36.0 L563.6,36.1 L565.6,36.2 L567.6,36.3 L569.6,36.4 L571.6,36.5 L573.7,36.6 L575.7,36.7 L577.7,36.9 L579.7,37.0 L581.7,37.2 L583.7,37.4 L585.7,37.6 L587.7,37.8 L589.7,38.1 L591.7,38.4 L593.6,38.7 L595.6,39.0 L597.6,39.4 L599.5,39.8 L601.5,40.2 L603.4,40.6 L605.4,41.0 L607.3,41.5 L609.3,42.0 L611.2,42.4 L613.2,42.9 L615.1,43.4 L617.1,43.9 L619.0,44.4 L620.9,44.9 L622.9,45.4 L624.8,45.9 L626.8,46.4 L628.7,46.9 L630.7,47.4 L632.7,47.9 L634.6,48.3 L636.6,48.8 L638.5,49.2 L640.5,49.7 L642.5,50.1 L644.5,50.6 L646.4,51.0 L648.4,51.5 L650.3,52.0 L652.3,52.4 L654.2,52.9 L656.2,53.4 L658.1,54.0 L660.0,54.5 L661.9,55.1 L663.8,55.7 L665.7,56.4 L667.5,57.0 L669.4,57.8 L671.2,58.5" stroke="#4680c8" stroke-width="2.8"/>
</g>
<ellipse cx="248.8" cy="43.5" rx="6.2" ry="10.5" fill="none" stroke="#000" stroke-width="1.8"/>
<ellipse cx="288.6" cy="60.7" rx="6.0" ry="11.2" fill="none" stroke="#000" stroke-width="1.8"/>
<ellipse cx="262.2" cy="103.6" rx="7.1" ry="10.9" fill="none" stroke="#000" stroke-width="1.8"/>
<ellipse cx="396.9" cy="115.2" rx="6.0" ry="11.5" fill="none" stroke="#000" stroke-width="1.8"/>
<g clip-path="url(#clipR)" fill="none" stroke-linejoin="miter" stroke-width="3">
<path d="M833.3,289.4 L903.4,329.8 L904.8,29.8 L905.2,29.2 L906.9,30.3 L908.6,31.3 L910.3,32.3 L912.1,33.4 L913.8,34.4 L915.5,35.5 L917.2,36.5 L918.9,37.6 L920.6,38.6 L922.3,39.7 L924.0,40.8 L925.7,41.8 L927.4,42.9 L929.1,44.0 L930.8,45.1 L932.5,46.1 L934.2,47.2 L935.9,48.3 L937.6,49.4 L939.3,50.5 L941.0,51.6 L942.6,52.7 L944.3,53.8 L946.0,54.9 L947.7,56.0 L949.3,57.1 L951.0,58.2 L952.7,59.4 L954.3,60.5 L956.0,61.6 L957.7,62.7 L959.3,63.9 L961.0,65.0 L962.6,66.1 L964.3,67.3 L966.0,68.4 L967.6,69.5 L969.3,70.7 L970.9,71.8 L972.6,73.0 L974.2,74.1 L975.8,75.3 L977.5,76.4 L979.1,77.6 L980.8,78.7 L982.4,79.9 L984.1,81.1 L985.7,82.2 L987.3,83.4 L989.0,84.6 L990.6,85.7 L992.2,86.9 L993.9,88.1 L995.5,89.3 L997.1,90.4 L998.7,91.6 L1000.4,92.8 L1002.0,94.0 L1003.6,95.2 L1005.2,96.3 L1006.9,97.5 L1008.5,98.7 L1010.1,99.9 L1011.7,101.1 L1013.3,102.3 L1015.0,103.5 L1016.6,104.7 L1018.2,105.9 L1019.8,107.1 L1021.4,108.3 L1023.0,109.5 L1024.6,110.7 L1026.3,111.9 L1027.9,113.1 L1029.5,114.3 L1031.1,115.5 L1032.7,116.7 L1034.3,117.9 L1035.9,119.1 L1037.5,120.3 L1039.1,121.5 L1040.7,122.7 L1042.4,123.9 L1044.0,125.1 L1045.6,126.3 L1047.2,127.5 L1048.8,128.7 L1050.4,130.0 L1052.0,131.2 L1053.6,132.4 L1055.2,133.6 L1056.8,134.8 L1058.4,136.0 L1060.0,137.2 L1061.6,138.4 L1063.2,139.6 L1064.8,140.9 L1066.4,142.1 L1068.0,143.3 L1069.7,144.5 L1071.3,145.7 L1072.9,146.9 L1074.5,148.1 L1076.1,149.3 L1077.7,150.6 L1079.3,151.8 L1080.9,153.0 L1082.5,154.2 L1084.1,155.4 L1085.7,156.6 L1087.3,157.8 L1088.9,159.0 L1090.5,160.2 L1092.2,161.4 L1093.8,162.6 L1095.4,163.8 L1097.0,165.0 L1098.6,166.2 L1100.2,167.4 L1101.8,168.7 L1103.4,169.9 L1105.0,171.1 L1106.7,172.3 L1108.3,173.4 L1109.9,174.6 L1111.5,175.8 L1113.1,177.0 L1114.7,178.2 L1116.4,179.4 L1118.0,180.6 L1119.6,181.8 L1121.2,183.0 L1122.8,184.2 L1124.5,185.4 L1126.1,186.5 L1127.7,187.7 L1129.4,188.9 L1131.0,190.1 L1132.6,191.3 L1134.2,192.4 L1135.9,193.6 L1137.5,194.8 L1139.1,196.0 L1140.8,197.1 L1142.4,198.3 L1144.0,199.5 L1145.7,200.6 L1147.3,201.8 L1149.0,202.9 L1150.6,204.1 L1152.2,205.3 L1153.9,206.4 L1155.5,207.6 L1157.2,208.7 L1158.8,209.9 L1160.5,211.0 L1162.1,212.2 L1163.8,213.3 L1165.4,214.5 L1167.1,215.6 L1168.7,216.7 L1170.4,217.9 L1172.0,219.0 L1173.7,220.2 L1175.4,221.3 L1177.0,222.4 L1178.7,223.6 L1180.3,224.7 L1182.0,225.8 L1183.7,226.9 L1185.3,228.1 L1187.0,229.2 L1188.7,230.3 L1190.3,231.4 L1192.0,232.5 L1193.7,233.7 L1195.4,234.8 L1197.0,235.9 L1198.7,237.0 L1200.4,238.1 L1202.1,239.2 L1203.7,240.3 L1205.4,241.4 L1207.1,242.5 L1208.8,243.6 L1210.5,244.7 L1212.1,245.8 L1213.8,246.9 L1215.5,248.0 L1217.2,249.1 L1218.9,250.2 L1220.6,251.2 L1222.3,252.3 L1224.0,253.4 L1225.7,254.5 L1227.4,255.6 L1229.1,256.6 L1230.8,257.7 L1232.5,258.8 L1234.2,259.9 L1235.9,260.9 L1237.6,262.0 L1239.3,263.1 L1241.0,264.1 L1242.7,265.2 L1244.4,266.2 L1246.1,267.3 L1247.8,268.3 L1249.5,269.4 L1251.2,270.4 L1252.9,271.5 L1254.7,272.5 L1256.4,273.6 L1258.1,274.6 L1259.8,275.7 L1261.5,276.7 L1263.3,277.7 L1265.0,278.8 L1266.7,279.8 L1268.4,280.8 L1270.2,281.9 L1271.9,282.9 L1273.6,283.9 L1275.3,284.9 L1277.1,286.0 L1278.8,287.0 L1280.5,288.0 L1282.3,289.0 L1284.0,290.0 L1285.8,291.0 L1287.5,292.0 L1289.2,293.0 L1291.0,294.0 L1292.7,295.0 L1294.5,296.0 L1296.2,297.0 L1298.0,298.0 L1299.7,299.0 L1301.5,300.0 L1303.2,301.0 L1305.0,302.0 L1306.7,303.0 L1308.5,303.9 L1310.2,304.9 L1312.0,305.9 L1313.8,306.9 L1315.5,307.9 L1317.3,308.8 L1319.0,309.8 L1320.8,310.8 L1322.6,311.7 L1324.4,312.7 L1326.1,313.6 L1327.9,314.6 L1329.7,315.5 L1331.4,316.5 L1333.2,317.5 L1335.0,318.4 L1336.8,319.3 L1338.6,320.3 L1340.3,321.2 L1342.1,322.2 L1343.9,323.1 L1345.7,324.0 L1347.5,325.0 L1349.3,325.9 L1351.0,326.8 L1352.8,327.7 L1354.6,328.7 L1354.0,329.7 L1355.1,29.3 L1389.4,53.8" stroke="#62468c"/>
<path d="M833.5,267.3 L835.4,268.2 L837.2,269.0 L839.1,269.8 L841.0,270.7 L842.9,271.5 L844.8,272.3 L846.7,273.0 L848.6,273.8 L850.5,274.6 L852.3,275.4 L854.3,276.1 L856.2,276.8 L858.1,277.6 L860.0,278.3 L861.9,279.0 L863.8,279.7 L865.7,280.4 L867.6,281.1 L869.6,281.8 L871.5,282.5 L873.4,283.1 L875.3,283.8 L877.3,284.4 L879.2,285.1 L881.1,285.7 L883.1,286.3 L885.0,287.0 L886.9,287.6 L888.9,288.2 L890.8,288.8 L892.8,289.4 L894.7,289.9 L896.7,290.5 L898.6,291.1 L900.6,291.7 L902.5,292.2 L904.5,292.8 L906.5,293.3 L908.4,293.9 L910.4,294.4 L912.3,294.9 L914.3,295.4 L916.3,296.0 L918.3,296.5 L920.2,297.0 L922.2,297.5 L924.2,298.0 L926.1,298.5 L928.1,299.0 L930.1,299.5 L932.1,300.0 L934.1,300.4 L936.0,300.9 L938.0,301.4 L940.0,301.9 L942.0,302.3 L944.0,302.8 L946.0,303.2 L948.0,303.7 L950.0,304.1 L952.0,304.6 L954.0,305.0 L955.9,305.5 L957.9,305.9 L959.9,306.4 L961.9,306.8 L963.9,307.3 L965.9,307.7 L967.9,308.2 L969.9,308.6 L971.9,309.1 L973.9,309.6 L975.8,310.1 L977.8,310.6 L979.8,311.2 L981.7,311.7 L983.7,312.3 L985.6,312.9 L987.5,313.5 L989.5,314.1 L991.4,314.8 L993.3,315.5 L995.2,316.2 L997.1,316.9 L998.9,317.7 L1000.8,318.5 L1002.6,319.4 L1004.5,320.3 L1006.3,321.2 L1008.1,322.2 L1009.9,323.2 L1011.6,324.3 L1013.4,325.4 L1015.1,326.5 L1016.9,327.7 L1018.5,328.9 L1019.5,28 L1020.8,28.7 L1022.5,29.8 L1024.2,30.9 L1025.9,32.1 L1027.6,33.2 L1029.2,34.4 L1030.9,35.6 L1032.5,36.8 L1034.2,38.0 L1035.8,39.2 L1037.4,40.4 L1039.0,41.6 L1040.6,42.8 L1042.2,44.1 L1043.8,45.3 L1045.3,46.6 L1046.9,47.8 L1048.5,49.1 L1050.0,50.3 L1051.6,51.6 L1053.1,52.9 L1054.6,54.2 L1056.2,55.4 L1057.7,56.7 L1059.2,58.0 L1060.7,59.3 L1062.3,60.6 L1063.8,61.9 L1065.3,63.2 L1066.8,64.6 L1068.3,65.9 L1069.8,67.2 L1071.3,68.5 L1072.8,69.8 L1074.3,71.2 L1075.8,72.5 L1077.3,73.8 L1078.8,75.2 L1080.3,76.5 L1081.8,77.8 L1083.3,79.2 L1084.8,80.5 L1086.4,81.8 L1087.9,83.2 L1089.4,84.5 L1090.9,85.9 L1092.5,87.2 L1094.0,88.5 L1095.5,89.9 L1097.1,91.2 L1098.6,92.5 L1100.2,93.8 L1101.7,95.2 L1103.3,96.5 L1104.8,97.8 L1106.4,99.1 L1108.0,100.4 L1109.5,101.7 L1111.1,103.0 L1112.7,104.3 L1114.3,105.5 L1115.9,106.8 L1117.5,108.0 L1119.1,109.3 L1120.7,110.5 L1122.4,111.7 L1124.0,112.9 L1125.6,114.1 L1127.3,115.3 L1128.9,116.5 L1130.6,117.6 L1132.2,118.8 L1133.9,119.9 L1135.6,121.0 L1137.3,122.1 L1139.0,123.2 L1140.7,124.3 L1142.4,125.3 L1144.1,126.3 L1145.8,127.3 L1147.5,128.3 L1149.3,129.3 L1151.0,130.2 L1152.8,131.2 L1154.5,132.1 L1156.3,133.0 L1158.1,133.8 L1159.9,134.7 L1161.7,135.5 L1163.5,136.3 L1165.3,137.1 L1167.1,137.8 L1169.0,138.5 L1170.8,139.2 L1172.7,139.9 L1174.5,140.6 L1176.4,141.2 L1178.3,141.8 L1180.2,142.3 L1182.1,142.8 L1184.0,143.4 L1185.9,143.8 L1187.8,144.3 L1189.8,144.7 L1191.7,145.2 L1193.7,145.6 L1195.6,145.9 L1197.6,146.3 L1199.6,146.7 L1201.5,147.0 L1203.5,147.3 L1205.5,147.6 L1207.5,147.9 L1209.5,148.2 L1211.5,148.4 L1213.5,148.7 L1215.5,148.9 L1217.5,149.2 L1219.6,149.4 L1221.6,149.7 L1223.6,149.9 L1225.6,150.1 L1227.6,150.3 L1229.7,150.5 L1231.7,150.8 L1233.7,151.0 L1235.7,151.2 L1237.8,151.4 L1239.8,151.7 L1241.8,151.9 L1243.8,152.1 L1245.9,152.4 L1247.9,152.6 L1249.9,152.9 L1251.9,153.2 L1253.9,153.4 L1255.9,153.7 L1257.9,154.1 L1259.9,154.4 L1261.9,154.7 L1263.9,155.1 L1265.9,155.4 L1267.9,155.8 L1269.8,156.2 L1271.8,156.7 L1273.8,157.1 L1275.7,157.6 L1277.7,158.1 L1279.6,158.6 L1281.5,159.2 L1283.5,159.7 L1285.4,160.4 L1287.3,161.0 L1289.2,161.6 L1291.1,162.3 L1292.9,163.0 L1294.8,163.8 L1296.7,164.5 L1298.5,165.3 L1300.4,166.1 L1302.2,167.0 L1304.1,167.8 L1305.9,168.6 L1307.7,169.5 L1309.5,170.4 L1311.4,171.3 L1313.2,172.2 L1315.0,173.1 L1316.8,174.0 L1318.6,174.9 L1320.4,175.8 L1322.2,176.7 L1324.1,177.6 L1325.9,178.5 L1327.7,179.4 L1329.5,180.3 L1331.3,181.2 L1333.1,182.1 L1334.9,183.0 L1336.8,183.8 L1338.6,184.7 L1340.4,185.6 L1342.2,186.4 L1344.0,187.3 L1345.9,188.2 L1347.7,189.0 L1349.5,189.9 L1351.3,190.8 L1353.1,191.6 L1354.9,192.5 L1356.7,193.4 L1358.5,194.3 L1360.3,195.2 L1362.0,196.1 L1363.8,197.1 L1365.6,198.0 L1367.3,199.0 L1369.1,200.0 L1370.8,200.9 L1372.6,202.0 L1374.3,203.0 L1376.0,204.0 L1377.7,205.1 L1379.4,206.2 L1381.1,207.3 L1382.8,208.4 L1384.4,209.6 L1386.1,210.8 L1387.7,212.0 L1389.3,213.2" stroke="#cc0008"/>
</g>
<path d="M90.5,10.8H97 M99,20.6H105.5 M99,30.4H105.5 M99,40.1H105.5 M99,49.9H105.5 M90.5,59.7H97 M99,69.5H105.5 M99,79.3H105.5 M99,89.0H105.5 M99,98.8H105.5 M90.5,108.6H97 M99,118.4H105.5 M99,128.2H105.5 M99,137.9H105.5 M99,147.7H105.5 M90.5,157.5H97 M99,167.3H105.5 M99,177.1H105.5 M99,186.8H105.5 M99,196.6H105.5 M90.5,206.4H97 M99,216.2H105.5 M99,226.0H105.5 M99,235.7H105.5 M99,245.5H105.5 M90.5,255.3H97 M99,265.1H105.5 M99,274.9H105.5 M99,284.6H105.5 M99,294.4H105.5 M90.5,304.2H97 M99,314.0H105.5 M99,323.8H105.5 M99,333.5H105.5 M99,343.3H105.5 M90.5,353.1H97 M98.0,355V362 M136.3,347V353 M174.5,347V353 M212.8,347V353 M251.0,347V353 M289.3,355V362 M327.6,347V353 M365.8,347V353 M404.1,347V353 M442.3,347V353 M480.6,355V362 M518.9,347V353 M557.1,347V353 M595.4,347V353 M633.6,347V353 M671.9,355V362" stroke="#858585" stroke-width="1.7" fill="none"/>
<path d="M98,10.3 H671.5 V354 H98 Z" stroke="#000" stroke-width="3" fill="none"/>
<path d="M833.4,12.2 H1389.4 V345.2 H833.4 Z" stroke="#000" stroke-width="2.8" fill="none"/>
<path d="M822.5,12.2H832.0 M831.5,20.6H839 M831.5,29.0H839 M831.5,37.5H839 M831.5,45.9H839 M822.5,54.3H839.5 M831.5,62.6H839 M831.5,70.9H839 M831.5,79.3H839 M831.5,87.6H839 M822.5,95.9H839.5 M831.5,104.2H839 M831.5,112.5H839 M831.5,120.9H839 M831.5,129.2H839 M822.5,137.5H839.5 M831.5,145.8H839 M831.5,154.0H839 M831.5,162.3H839 M831.5,170.5H839 M822.5,178.8H839.5 M831.5,187.5H839 M831.5,196.3H839 M831.5,205.0H839 M831.5,213.8H839 M822.5,222.5H839.5 M831.5,230.8H839 M831.5,239.0H839 M831.5,247.3H839 M831.5,255.5H839 M822.5,263.8H839.5 M831.5,272.1H839 M831.5,280.4H839 M831.5,288.7H839 M831.5,297.0H839 M822.5,305.3H839.5 M831.5,313.3H839 M831.5,321.3H839 M831.5,329.2H839 M831.5,337.2H839 M822.5,345.2H832.0 M833.3,341V356.5 M870.3,341V349 M907.4,341V349 M944.4,341V349 M981.5,341V349 M1018.5,341V356.5 M1055.5,341V349 M1092.6,341V349 M1129.6,341V349 M1166.7,341V349 M1203.7,341V356.5 M1240.7,341V349 M1277.8,341V349 M1314.8,341V349 M1351.9,341V349 M1388.9,341V356.5" stroke="#8a8a8a" stroke-width="1.7" fill="none"/>
<text x="74" y="20.2" font-size="29" text-anchor="end">0</text>
<text x="74" y="69.1" font-size="29" text-anchor="end">-5</text>
<text x="74" y="118.0" font-size="29" text-anchor="end">-10</text>
<text x="74" y="166.9" font-size="29" text-anchor="end">-15</text>
<text x="74" y="215.8" font-size="29" text-anchor="end">-20</text>
<text x="74" y="264.7" font-size="29" text-anchor="end">-25</text>
<text x="74" y="313.6" font-size="29" text-anchor="end">-30</text>
<text x="74" y="362.5" font-size="29" text-anchor="end">-35</text>
<text x="99.1" y="398.3" font-size="28.5" text-anchor="middle">1</text>
<text x="290.6" y="398.3" font-size="28.5" text-anchor="middle">2</text>
<text x="480.2" y="398.3" font-size="28.5" text-anchor="middle">3</text>
<text x="671.3" y="398.3" font-size="28.5" text-anchor="middle">4</text>
<text class="b" x="385" y="417.2" font-size="27" text-anchor="middle">Frequency (GHz)</text>
<text class="b" transform="translate(20,182.5) rotate(-90)" font-size="27" text-anchor="middle">Magnitude (dB)</text>
<text x="376.2" y="452.5" font-size="27" text-anchor="middle">(a)</text>
<text x="203.4" y="34.2"><tspan font-style="italic" font-size="31">S</tspan><tspan font-size="22.5" dx="-0.4" dy="-0.5">12</tspan></text>
<text x="305.0" y="82.8"><tspan font-style="italic" font-size="31">S</tspan><tspan font-size="22.5" dx="-0.4" dy="6.6">13</tspan></text>
<text x="360.8" y="98.2"><tspan font-style="italic" font-size="31">S</tspan><tspan font-size="22.5" dx="0.8" dy="0.0">11</tspan></text>
<text x="228.7" y="142.2"><tspan font-style="italic" font-size="31">S</tspan><tspan font-size="22.5" dx="0.8" dy="0.0">14</tspan></text>
<text x="806.8" y="21.8" font-size="29" text-anchor="end">200</text>
<text x="806.8" y="63.9" font-size="29" text-anchor="end">150</text>
<text x="806.8" y="105.5" font-size="29" text-anchor="end">100</text>
<text x="806.8" y="147.1" font-size="29" text-anchor="end">50</text>
<text x="806.8" y="188.4" font-size="29" text-anchor="end">0</text>
<text x="806.8" y="232.1" font-size="29" text-anchor="end">-50</text>
<text x="806.8" y="273.4" font-size="29" text-anchor="end">-100</text>
<text x="806.8" y="314.9" font-size="29" text-anchor="end">-150</text>
<text x="806.8" y="354.8" font-size="29" text-anchor="end">-200</text>
<text x="833.3" y="391.6" font-size="29" text-anchor="middle">1</text>
<text x="1018.5" y="391.6" font-size="29" text-anchor="middle">2</text>
<text x="1203.7" y="391.6" font-size="29" text-anchor="middle">3</text>
<text x="1388.9" y="391.6" font-size="29" text-anchor="middle">4</text>
<text class="b" x="1111.3" y="418.2" font-size="27" text-anchor="middle">Frequency (GHz)</text>
<text class="b" transform="translate(737.6,179.3) rotate(-90)" font-size="26.5" text-anchor="middle">Phas<tspan dx="3">e(S</tspan><tspan font-size="18" dy="5">12</tspan><tspan dy="-5">) &amp; Phas</tspan><tspan dx="3">e(S</tspan><tspan font-size="18" dy="5">13</tspan><tspan dy="-5">) in</tspan></text>
<text class="b" transform="translate(768,178.5) rotate(-90)" font-size="27.3" text-anchor="middle">degree</text>
<text x="1106.5" y="452" font-size="27" text-anchor="middle">(b)</text>
</svg>
</body></html>
